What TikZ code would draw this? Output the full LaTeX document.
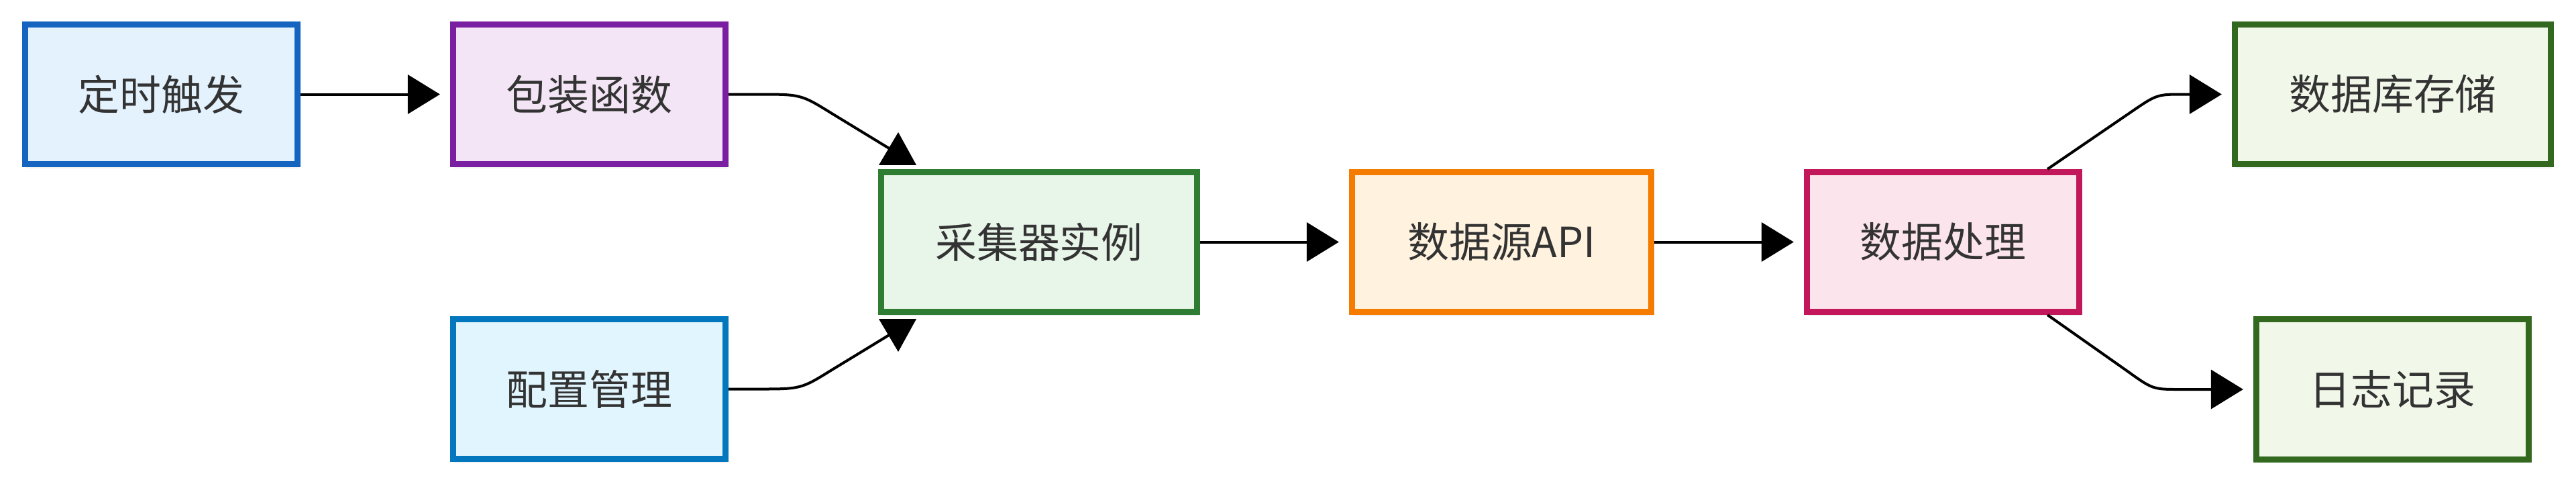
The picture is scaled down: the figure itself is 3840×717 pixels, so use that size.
\documentclass[tikz,border=0pt]{standalone}
\usepackage{fontspec}
\setmainfont{Noto Sans CJK SC}
\usetikzlibrary{arrows.meta,shadows,calc}
\definecolor{txt}{HTML}{333333}
\definecolor{bA}{HTML}{1565C0}\definecolor{fA}{HTML}{E3F2FD}
\definecolor{bB}{HTML}{7B1FA2}\definecolor{fB}{HTML}{F3E5F5}
\definecolor{bC}{HTML}{2E7D32}\definecolor{fC}{HTML}{E8F5E9}
\definecolor{bD}{HTML}{F57C00}\definecolor{fD}{HTML}{FFF3E0}
\definecolor{bE}{HTML}{C2185B}\definecolor{fE}{HTML}{FCE4EC}
\definecolor{bF}{HTML}{33691E}\definecolor{fF}{HTML}{F1F8E9}
\definecolor{bG}{HTML}{0277BD}\definecolor{fG}{HTML}{E1F5FE}
\tikzset{
  box/.style={draw, rectangle, line width=0.09cm, minimum height=2.08cm,
    text=txt, font=\fontsize{17.6pt}{20pt}\selectfont, inner sep=0pt,
    drop shadow={opacity=0.10, shadow xshift=0.02cm, shadow yshift=-0.06cm}},
  conn/.style={line width=0.04cm, -{Triangle[length=0.48cm,width=0.58cm]}, shorten >=0.15cm},
  curvy/.style={line width=0.04cm},
  head/.style={fill=black, draw=none}
}
\begin{document}
\begin{tikzpicture}[x=0.01cm,y=-0.01cm]
\useasboundingbox (0,0) rectangle (3840,717);
\node[box, draw=bA, fill=fA, minimum width=4.06cm] (trig) at (240.5,140.5) {定时触发};
\node[box, draw=bB, fill=fB, minimum width=4.06cm] (wrap) at (878.5,140.5) {包装函数};
\node[box, draw=bG, fill=fG, minimum width=4.06cm] (conf) at (878.5,579.5) {配置管理};
\node[box, draw=bC, fill=fC, minimum width=4.71cm] (coll) at (1549,360.5) {采集器实例};
\node[box, draw=bD, fill=fD, minimum width=4.46cm] (src) at (2238.5,360.5) {数据源API};
\node[box, draw=bE, fill=fE, minimum width=4.06cm] (proc) at (2896.5,360.5) {数据处理};
\node[box, draw=bF, fill=fF, minimum width=4.71cm] (db) at (3567,140.5) {数据库存储};
\node[box, draw=bF, fill=fF, minimum width=4.06cm] (log) at (3566.5,580) {日志记录};

\draw[conn] (trig.east) -- (wrap.west);
\draw[conn] (coll.east) -- (src.west);
\draw[conn] (src.east) -- (proc.west);

% wrap -> coll
\coordinate (c1) at (1327,222);
\draw[curvy] (wrap.east) -- (1130,140.5) .. controls (1194,140.5) .. (1240,169) -- (c1);
\fill[head] ($(coll.north)+(-239,-6)$) -- ++(56,0) -- ++(-27,-49) -- cycle;
% conf -> coll
\coordinate (c2) at (1327,498);
\draw[curvy] (conf.east) -- (1130,579.5) .. controls (1194,579.5) .. (1240,551) -- (c2);
\fill[head] ($(coll.south)+(-239,6)$) -- ++(56,0) -- ++(-27,49) -- cycle;
% proc -> db
\draw[conn] ($(proc.north east)+(-52,0)$) -- (3175,168) .. controls (3215,140.5) .. (3255,140.5) -- (db.west);
% proc -> log
\draw[conn] ($(proc.south east)+(-52,0)$) -- (3170,552) .. controls (3209,580) .. (3250,580) -- (log.west);
\end{tikzpicture}
\end{document}
